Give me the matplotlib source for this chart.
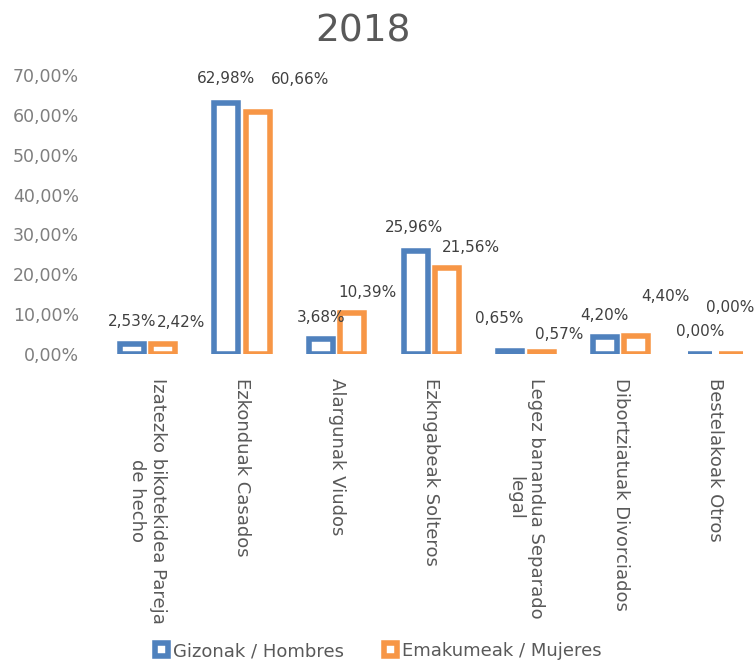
import matplotlib
matplotlib.use("Agg")
import matplotlib.pyplot as plt
import numpy as np

title = "2018"
categories = [
    "Izatezko bikotekidea Pareja\nde hecho",
    "Ezkonduak Casados",
    "Alargunak Viudos",
    "Ezkngabeak Solteros",
    "Legez banandua Separado\nlegal",
    "Dibortziatuak Divorciados",
    "Bestelakoak Otros",
]
series_names = ["Gizonak / Hombres", "Emakumeak / Mujeres"]
hombres = [2.53, 62.98, 3.68, 25.96, 0.65, 4.20, 0.00]
mujeres = [2.42, 60.66, 10.39, 21.56, 0.57, 4.40, 0.00]
yticks = [0, 10, 20, 30, 40, 50, 60, 70]

# label placement offsets (pixels) relative to the bar top
off_h = [(0, 22), (0, 24), (0, 22), (-2, 23), (-11, 33), (-1, 22), (1, 22)]
off_m = [(18, 22), (42, 33), (15, 20), (24, 21), (18, 17), (29, 40), (-1, 47)]

W, H = 756, 662
fig = plt.figure(figsize=(W / 100, H / 100), dpi=100)
ax = fig.add_axes([100 / W, (H - 354) / H, 656 / W, (354 - 75) / H])

blue = "#4F81BD"
orange = "#F79646"
x = np.arange(len(categories))
w = 0.253
d = 0.165
b1 = ax.bar(x - d, hombres, w, facecolor="white", edgecolor=blue, linewidth=4,
            label=series_names[0])
b2 = ax.bar(x + d, mujeres, w, facecolor="white", edgecolor=orange, linewidth=4,
            label=series_names[1])
for p in list(b1) + list(b2):
    p.set_joinstyle("miter")

def fmt(v):
    return f"{v:.2f}".replace(".", ",") + "%"

for xi, v, o in zip(x - d, hombres, off_h):
    ax.annotate(fmt(v), (xi, v), xytext=o, textcoords="offset pixels",
                ha="center", va="center", fontsize=11, color="#404040")
for xi, v, o in zip(x + d, mujeres, off_m):
    ax.annotate(fmt(v), (xi, v), xytext=o, textcoords="offset pixels",
                ha="center", va="center", fontsize=11, color="#404040")

ax.set_xlim(-0.5, 6.43)
ax.set_ylim(0, 70)
ax.set_yticks(yticks)
ax.set_yticklabels([fmt(t) for t in yticks], fontsize=12.5, color="#7F7F7F")
ax.set_xticks(x)
ax.set_xticklabels(categories, rotation=270, fontsize=13, color="#595959",
                   va="top", ha="center", multialignment="center")
ax.tick_params(axis="both", length=0)
ax.tick_params(axis="y", pad=15)
ax.tick_params(axis="x", pad=17)
for s in ax.spines.values():
    s.set_visible(False)
ax.patch.set_alpha(0)

fig.text(363 / W, 1 - 31 / H, title, ha="center", va="center", fontsize=27,
         color="#595959")

fig.legend(handles=[b1, b2], loc="center", bbox_to_anchor=(378 / W, 11 / H),
           ncol=2, frameon=False, fontsize=13, labelcolor="#595959",
           handlelength=0.75, handleheight=0.75, handletextpad=0.25,
           columnspacing=2.2, borderpad=0)

fig.savefig("out.png", dpi=100)
